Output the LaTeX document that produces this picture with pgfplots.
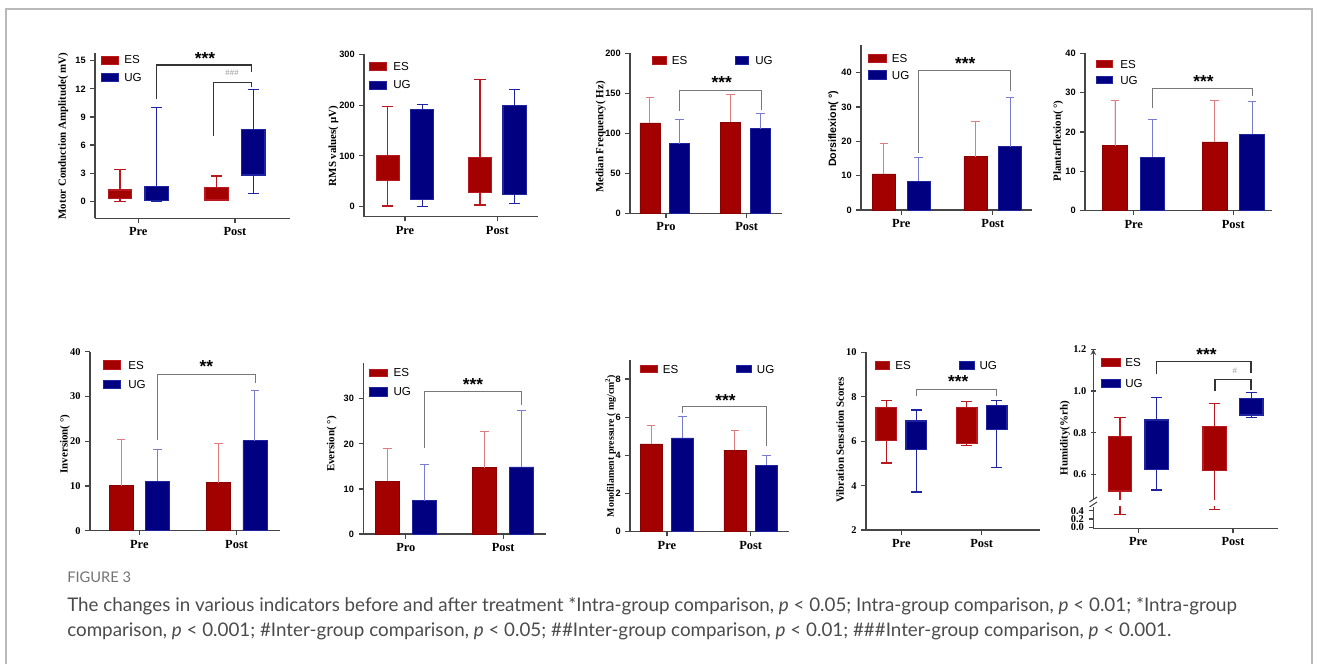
\documentclass[border=0pt]{standalone}
\usepackage{fontspec}
\setmainfont{Liberation Serif}
\newfontfamily\lsans{Liberation Sans}
\newfontfamily\capfont{Lato}
\usepackage{pgfplots}
\pgfplotsset{compat=1.18}
\usepgfplotslibrary{statistics}

\definecolor{esred}{RGB}{163,0,0}
\definecolor{esline}{RGB}{185,25,30}
\definecolor{ugblue}{RGB}{0,0,128}
\definecolor{ugline}{RGB}{30,35,160}
\definecolor{eserr}{RGB}{222,125,125}
\definecolor{ugerr}{RGB}{120,125,210}
\definecolor{axgray}{RGB}{70,70,70}
\definecolor{brkgray}{RGB}{120,120,120}
\definecolor{framegray}{RGB}{185,185,185}
\definecolor{captext}{RGB}{75,75,75}

\newcommand\ticksans{\lsans\bfseries\fontsize{6.9}{8}\selectfont}
\newcommand\tickserif{\rmfamily\bfseries\fontsize{7.8}{9}\selectfont}
\newcommand\catfont{\rmfamily\bfseries\fontsize{9.3}{10}\selectfont}
\newcommand\labfont{\rmfamily\bfseries\fontsize{8.2}{9}\selectfont}
\newcommand\labsans{\lsans\bfseries\fontsize{8}{9}\selectfont}
\newcommand\legfont{\lsans\fontsize{8.7}{9}\selectfont}
\newcommand\starfont{\lsans\bfseries\fontsize{13}{12}\selectfont}
\newcommand\hashfont{\lsans\fontsize{6}{6}\selectfont}

% legend key: x, top y, w, h, text x, style, text (pixel units)
\newcommand\leg[7]{\filldraw[#6, line width=0.5pt] (#1,#2) rectangle ++(#3,#4);
  \node[anchor=west, font=\legfont, inner sep=0pt] at (#5,{#2+#4/2}) {#7};}

\tikzset{
  lges/.style={fill=esred, draw=esline},
  lgug/.style={fill=ugblue, draw=ugline},
  brk/.style={line width=0.8pt, draw=black!80},
  brkg/.style={line width=0.7pt, draw=brkgray},
}

\pgfplotsset{
  pane/.style={scale only axis, anchor=south west, axis lines=left,
    axis line style={-, line width=0.9pt, draw=axgray},
    tick align=outside, major tick length=3.5pt,
    tick style={line width=0.9pt, draw=axgray},
    xtick={0,1}, xticklabels={Pre,Post},
    x tick label style={font=\catfont},
    y tick label style={font=\ticksans},
    /pgf/number format/assume math mode=true,
    ylabel style={font=\labfont, anchor=center},
    clip mode=individual},
  esbox/.style={line width=0.9pt, draw=esline, boxplot/draw direction=y,
    boxplot/every box/.style={fill=esred, draw=esline},
    boxplot/every median/.style={draw opacity=0}},
  ugbox/.style={line width=0.9pt, draw=ugline, boxplot/draw direction=y,
    boxplot/every box/.style={fill=ugblue, draw=ugline},
    boxplot/every median/.style={draw opacity=0}},
  esbar/.style={ybar, bar shift=0pt, fill=esred, draw=esred!85!black, line width=0.5pt,
    error bars/y dir=plus, error bars/y explicit,
    error bars/error bar style={line width=0.7pt, draw=eserr},
    error bars/error mark options={rotate=90, line width=0.7pt, draw=eserr, mark size=3.2pt}},
  ugbar/.style={ybar, bar shift=0pt, fill=ugblue, draw=ugline, line width=0.5pt,
    error bars/y dir=plus, error bars/y explicit,
    error bars/error bar style={line width=0.7pt, draw=ugerr},
    error bars/error mark options={rotate=90, line width=0.7pt, draw=ugerr, mark size=3.2pt}},
}

\begin{document}
\begin{tikzpicture}
\begin{scope}[x=0.75pt, y=-0.75pt]
  \path[use as bounding box] (0,0) rectangle (1319,664);
  \draw[framegray, line width=0.8pt] (6,664) -- (6,9) -- (1312,9) -- (1312,664);
\end{scope}

% ---- 1 Motor conduction amplitude (box)
\begin{axis}[pane, at={(71.25pt,-163.725pt)}, width=146.25pt, height=123.75pt,
  xmin=-0.448, xmax=1.569, ymin=-1.81, ymax=15.79, ytick={0,3,6,9,12,15},
  ylabel={Motor Conduction Amplitude( mV)},
  ylabel style={at={(axis description cs:-0.163,0.499)}}]
\addplot[esbox, boxplot prepared={draw position=-0.19, lower whisker=0, lower quartile=0.3, median=0.7, upper quartile=1.2, upper whisker=3.4, box extend=0.24, whisker extend=0.12}] coordinates {};
\addplot[ugbox, boxplot prepared={draw position=0.19, lower whisker=0, lower quartile=0.07, median=0.8, upper quartile=1.55, upper whisker=10.0, box extend=0.24, whisker extend=0.12}] coordinates {};
\addplot[esbox, boxplot prepared={draw position=0.81, lower whisker=0.05, lower quartile=0.15, median=0.8, upper quartile=1.45, upper whisker=2.7, box extend=0.24, whisker extend=0.12}] coordinates {};
\addplot[ugbox, boxplot prepared={draw position=1.19, lower whisker=0.8, lower quartile=2.8, median=5.2, upper quartile=7.7, upper whisker=11.9, box extend=0.24, whisker extend=0.12}] coordinates {};
\draw[brk] (0.19,10.9) -- (0.19,14.54) -- (1.17,14.54) -- (1.17,13.76);
\draw[brk] (0.78,7.0) -- (0.78,12.7) -- (1.17,12.7) -- (1.17,12.2);
\node[font=\starfont] at (0.69,15.2) {***};
\node[font=\hashfont, text=black!40] at (0.97,13.7) {\#\#\#};
\end{axis}

% ---- 2 RMS values (box); x in tenths
\begin{axis}[pane, at={(273pt,-162.525pt)}, width=130.5pt, height=121.8pt,
  xmin=-4.44, xmax=14.41, ymin=-19.7, ymax=300, ytick={0,100,200,300},
  xtick={0,10},
  ylabel={RMS values( μV)},
  ylabel style={at={(axis description cs:-0.176,0.435)}}]
\addplot[esbox, boxplot prepared={draw position=-1.87, lower whisker=1.4, lower quartile=52, median=75, upper quartile=101, upper whisker=197, box extend=2.5, whisker extend=1.2}] coordinates {};
\addplot[ugbox, boxplot prepared={draw position=1.87, lower whisker=1, lower quartile=14.5, median=100, upper quartile=192, upper whisker=201.5, box extend=2.5, whisker extend=1.2}] coordinates {};
\addplot[esbox, boxplot prepared={draw position=8.13, lower whisker=3.3, lower quartile=27.5, median=60, upper quartile=96.5, upper whisker=250.8, box extend=2.5, whisker extend=1.2}] coordinates {};
\addplot[ugbox, boxplot prepared={draw position=11.87, lower whisker=6.6, lower quartile=24.4, median=110, upper quartile=200, upper whisker=231, box extend=2.5, whisker extend=1.2}] coordinates {};
\end{axis}

% ---- 3 Median frequency (bars)
\begin{axis}[pane, at={(472.5pt,-159.975pt)}, width=113.775pt, height=120pt,
  xmin=-0.446, xmax=1.434, ymin=0, ymax=200, ytick={0,50,100,150,200},
  xticklabels={Pro,Post},
  ylabel={Median Frequency( Hz)},
  ylabel style={at={(axis description cs:-0.192,0.477)}}]
\addplot[bar width=0.248, esbar] coordinates {(-0.2,113) +- (0,31.5) (0.8,114) +- (0,34)};
\addplot[bar width=0.248, ugbar] coordinates {(0.17,87) +- (0,30) (1.17,106) +- (0,19)};
\draw[brkg] (0.17,128) -- (0.17,154) -- (1.18,154) -- (1.18,129);
\node[font=\starfont] at (0.69,163) {***};
\end{axis}

% ---- 4 Dorsiflexion (bars)
\begin{axis}[pane, at={(645.75pt,-157.5pt)}, width=128.025pt, height=123.75pt,
  xmin=-0.44, xmax=1.425, ymin=0, ymax=48.1, ytick={0,10,20,30,40},
  ylabel={Dorsiflexion( °)},
  ylabel style={font=\labsans, at={(axis description cs:-0.162,0.491)}}]
\addplot[bar width=0.25, esbar] coordinates {(-0.19,10.5) +- (0,8.9) (0.81,15.5) +- (0,10.4)};
\addplot[bar width=0.25, ugbar] coordinates {(0.19,8.45) +- (0,6.75) (1.19,18.5) +- (0,14.3)};
\draw[brkg] (0.19,16.5) -- (0.19,40.8) -- (1.19,40.8) -- (1.19,34.8);
\node[font=\starfont] at (0.70,42.8) {***};
\end{axis}

% ---- 5 Plantarflexion (bars)
\begin{axis}[pane, at={(813.75pt,-158.025pt)}, width=140.25pt, height=118.05pt,
  xmin=-0.489, xmax=1.389, ymin=0, ymax=40, ytick={0,10,20,30,40},
  ylabel={Plantarflexion( °)},
  ylabel style={at={(axis description cs:-0.143,0.443)}}]
\addplot[bar width=0.248, esbar] coordinates {(-0.188,16.5) +- (0,11.4) (0.812,17.5) +- (0,10.6)};
\addplot[bar width=0.248, ugbar] coordinates {(0.188,13.6) +- (0,9.5) (1.188,19.4) +- (0,8.4)};
\draw[brkg] (0.19,26) -- (0.19,31.1) -- (1.19,31.1) -- (1.19,29.1);
\node[font=\starfont] at (0.70,32.8) {***};
\end{axis}

% ---- 6 Inversion (bars)
\begin{axis}[pane, at={(67.5pt,-398.025pt)}, width=142.5pt, height=134.25pt,
  xmin=-0.507, xmax=1.446, ymin=0, ymax=40, ytick={0,10,20,30,40},
  y tick label style={font=\tickserif},
  ylabel={Inversion( °)},
  ylabel style={at={(axis description cs:-0.132,0.484)}}]
\addplot[bar width=0.247, esbar] coordinates {(-0.188,10.1) +- (0,10.4) (0.812,10.7) +- (0,8.7)};
\addplot[bar width=0.247, ugbar] coordinates {(0.188,11.1) +- (0,7.1) (1.188,20.1) +- (0,11.3)};
\draw[brkg] (0.19,20.3) -- (0.19,35) -- (1.19,35) -- (1.19,32.9);
\node[font=\starfont] at (0.69,36.6) {**};
\end{axis}

% ---- 7 Eversion (bars)
\begin{axis}[pane, at={(272.475pt,-400.5pt)}, width=137.025pt, height=128.475pt,
  xmin=-0.437, xmax=1.44, ymin=0, ymax=38, ytick={0,10,20,30},
  xticklabels={Pro,Post},
  ylabel={Eversion( °)},
  ylabel style={at={(axis description cs:-0.173,0.525)}}]
\addplot[bar width=0.247, esbar] coordinates {(-0.19,11.75) +- (0,7.15) (0.81,14.7) +- (0,8)};
\addplot[bar width=0.247, ugbar] coordinates {(0.19,7.4) +- (0,8.1) (1.19,14.9) +- (0,12.4)};
\draw[brkg] (0.19,19) -- (0.19,31.6) -- (1.19,31.6) -- (1.19,28.6);
\node[font=\starfont] at (0.69,33.2) {***};
\end{axis}

% ---- 8 Monofilament pressure (bars)
\begin{axis}[pane, at={(472.5pt,-398.775pt)}, width=119.475pt, height=128.775pt,
  xmin=-0.44, xmax=1.46, ymin=0, ymax=9, ytick={0,2,4,6,8},
  ylabel={Monofilament pressure ( mg/cm\textsuperscript{2})},
  ylabel style={font=\rmfamily\bfseries\fontsize{7.4}{8}\selectfont, at={(axis description cs:-0.122,0.499)}}]
\addplot[bar width=0.262, esbar] coordinates {(-0.189,4.6) +- (0,0.95) (0.811,4.28) +- (0,1.01)};
\addplot[bar width=0.262, ugbar] coordinates {(0.189,4.92) +- (0,1.13) (1.189,3.49) +- (0,0.49)};
\draw[brkg] (0.19,6.2) -- (0.19,6.55) -- (1.19,6.55) -- (1.19,4.49);
\node[font=\starfont] at (0.70,6.85) {***};
\end{axis}

% ---- 9 Vibration sensation (box)
\begin{axis}[pane, at={(649.5pt,-397.5pt)}, width=130.5pt, height=133.275pt,
  xmin=-0.44, xmax=1.727, ymin=2, ymax=10, ytick={2,4,6,8,10},
  y tick label style={font=\tickserif},
  ylabel={Vibration Sensation Scores},
  ylabel style={at={(axis description cs:-0.149,0.506)}}]
\addplot[esbox, boxplot prepared={draw position=-0.187, lower whisker=5.02, lower quartile=6.02, median=6.8, upper quartile=7.5, upper whisker=7.82, box extend=0.257, whisker extend=0.13}] coordinates {};
\addplot[ugbox, boxplot prepared={draw position=0.187, lower whisker=3.71, lower quartile=5.63, median=6.3, upper quartile=6.91, upper whisker=7.4, box extend=0.257, whisker extend=0.13}] coordinates {};
\addplot[esbox, boxplot prepared={draw position=0.813, lower whisker=5.81, lower quartile=5.9, median=6.8, upper quartile=7.5, upper whisker=7.8, box extend=0.257, whisker extend=0.13}] coordinates {};
\addplot[ugbox, boxplot prepared={draw position=1.187, lower whisker=4.82, lower quartile=6.54, median=7.0, upper quartile=7.59, upper whisker=7.82, box extend=0.257, whisker extend=0.13}] coordinates {};
\draw[brkg] (0.19,8.04) -- (0.19,8.35) -- (1.19,8.35) -- (1.19,8.04);
\node[font=\starfont] at (0.71,8.68) {***};
\end{axis}

% ---- 10 Humidity (box, broken y axis): upper part
\begin{axis}[pane, at={(819.975pt,-374.475pt)}, width=138.525pt, height=112.5pt,
  axis x line=none, axis y line=left, xtick=\empty,
  xmin=-0.475, xmax=1.475, ymin=0.48, ymax=1.2, ytick={0.6,0.8,1.0,1.2},
  y tick label style={font=\tickserif, /pgf/number format/fixed, /pgf/number format/fixed zerofill, /pgf/number format/precision=1},
  ylabel={Humidity(\%rh)},
  ylabel style={at={(axis description cs:-0.153,0.409)}}]
\addplot[esbox, boxplot prepared={draw position=-0.194, lower whisker=0.31, lower quartile=0.52, median=0.65, upper quartile=0.78, upper whisker=0.874, box extend=0.246, whisker extend=0.12}] coordinates {};
\addplot[ugbox, boxplot prepared={draw position=0.194, lower whisker=0.525, lower quartile=0.625, median=0.75, upper quartile=0.861, upper whisker=0.97, box extend=0.246, whisker extend=0.12}] coordinates {};
\addplot[esbox, boxplot prepared={draw position=0.806, lower whisker=0.43, lower quartile=0.617, median=0.72, upper quartile=0.829, upper whisker=0.94, box extend=0.246, whisker extend=0.12}] coordinates {};
\addplot[ugbox, boxplot prepared={draw position=1.194, lower whisker=0.874, lower quartile=0.885, median=0.92, upper quartile=0.965, upper whisker=0.994, box extend=0.246, whisker extend=0.12}] coordinates {};
\draw[brk] (0.19,1.08) -- (0.19,1.14) -- (1.19,1.14) -- (1.19,1.085);
\draw[brk] (0.81,1.0) -- (0.81,1.057) -- (1.19,1.057) -- (1.19,1.005);
\node[font=\starfont] at (0.72,1.175) {***};
\node[font=\hashfont, text=black!40] at (1.02,1.095) {\#};
\end{axis}
% lower part
\begin{axis}[pane, at={(819.975pt,-396.225pt)}, width=138.525pt, height=16.3pt,
  xmin=-0.475, xmax=1.475, ymin=-0.024, ymax=0.5, ytick={0,0.2,0.4},
  y tick label style={font=\tickserif, /pgf/number format/fixed, /pgf/number format/fixed zerofill, /pgf/number format/precision=1}]
\addplot[esbox, boxplot prepared={draw position=-0.194, lower whisker=0.31, lower quartile=0.52, median=0.65, upper quartile=0.78, upper whisker=0.874, box extend=0.246, whisker extend=0.12}] coordinates {};
\addplot[esbox, boxplot prepared={draw position=0.806, lower whisker=0.43, lower quartile=0.617, median=0.72, upper quartile=0.829, upper whisker=0.94, box extend=0.246, whisker extend=0.12}] coordinates {};
\end{axis}

\begin{scope}[x=0.75pt, y=-0.75pt]
  % axis break marks
  \draw[axgray, line width=0.8pt] (1089.5,502) -- (1097,497) (1089.5,507) -- (1097,502);
  % legends
  \leg{101.7}{56}{16.6}{8}{124}{lges}{ES}
  \leg{101.7}{73.5}{16.6}{8.2}{124}{lgug}{UG}
  \leg{369.3}{62.7}{17.4}{8}{393}{lges}{ES}
  \leg{369.3}{80.9}{17.4}{8.2}{393}{lgug}{UG}
  \leg{652.7}{56.7}{13.3}{7.3}{671.7}{lges}{ES}
  \leg{735}{56.7}{13.3}{7.3}{755}{lgug}{UG}
  \leg{868}{54}{18}{8.3}{891.7}{lges}{ES}
  \leg{868}{70.8}{18}{8.5}{891.7}{lgug}{UG}
  \leg{1096.7}{60.7}{16}{6.8}{1120}{lges}{ES}
  \leg{1096.7}{76.7}{16}{6.8}{1120}{lgug}{UG}
  \leg{103.3}{360.7}{16.7}{8.6}{128}{lges}{ES}
  \leg{103.3}{380}{16.7}{8.7}{128}{lgug}{UG}
  \leg{369.3}{369}{18}{7.7}{393.3}{lges}{ES}
  \leg{369.3}{387.7}{18}{8.3}{393.3}{lgug}{UG}
  \leg{640}{365.7}{17.3}{7}{662.7}{lges}{ES}
  \leg{736.7}{365.7}{15}{7}{756.7}{lgug}{UG}
  \leg{875}{361}{14.3}{8.3}{895}{lges}{ES}
  \leg{959.3}{361}{14.7}{8.3}{979.3}{lgug}{UG}
  \leg{1101.7}{358.3}{18.3}{8.4}{1125}{lges}{ES}
  \leg{1101.7}{379.3}{18.3}{8}{1125}{lgug}{UG}
  % caption
  \node[anchor=west, inner sep=0pt, text=black!55, font=\capfont\fontsize{11}{12}\selectfont] at (67,577) {FIGURE 3};
  \node[anchor=base west, inner sep=0pt, text=captext, font=\capfont\fontsize{14.1}{16}\selectfont] at (67,611)
    {The changes in various indicators before and after treatment *Intra-group comparison, \textit{p} < 0.05; Intra-group comparison, \textit{p} < 0.01; *Intra-group};
  \node[anchor=base west, inner sep=0pt, text=captext, font=\capfont\fontsize{14.1}{16}\selectfont] at (67,636)
    {comparison, \textit{p} < 0.001; \#Inter-group comparison, \textit{p} < 0.05; \#\#Inter-group comparison, \textit{p} < 0.01; \#\#\#Inter-group comparison, \textit{p} < 0.001.};
\end{scope}
\end{tikzpicture}
\end{document}
